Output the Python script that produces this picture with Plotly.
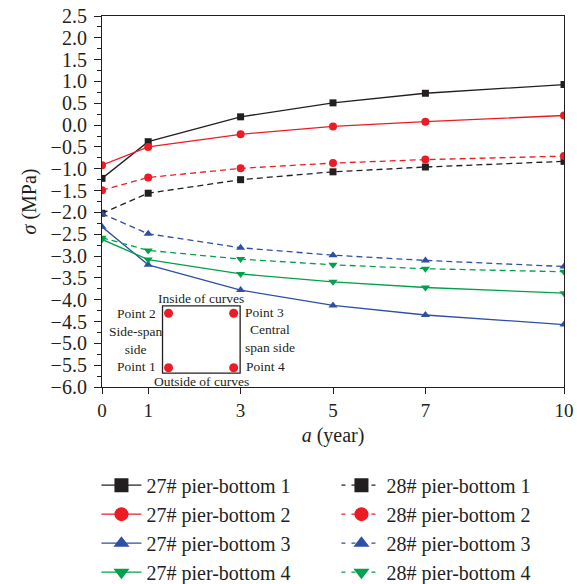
import plotly.graph_objects as go

years = [0, 1, 3, 5, 7, 10]
p27_1 = [-1.22, -0.38, 0.19, 0.51, 0.73, 0.93]
p27_2 = [-0.92, -0.50, -0.21, -0.03, 0.08, 0.22]
p27_3 = [-2.33, -3.20, -3.78, -4.13, -4.35, -4.57]
p27_4 = [-2.62, -3.08, -3.41, -3.59, -3.72, -3.85]
p28_1 = [-2.02, -1.56, -1.25, -1.07, -0.96, -0.83]
p28_2 = [-1.49, -1.20, -0.99, -0.87, -0.79, -0.71]
p28_3 = [-2.03, -2.49, -2.81, -2.98, -3.10, -3.24]
p28_4 = [-2.58, -2.87, -3.07, -3.20, -3.29, -3.36]

y_ticks = [2.5 - 0.5 * i for i in range(18)]
x_ticks = years

FONT = "Liberation Serif"
BLACK = "#231f20"
RED = "#ed1c24"
BLUE = "#2e4fa3"
GREEN = "#00a14b"

series = [
    ("27# pier-bottom 1", p27_1, BLACK, "square", "solid", 7),
    ("28# pier-bottom 1", p28_1, BLACK, "square", "dash", 7),
    ("27# pier-bottom 2", p27_2, RED, "circle", "solid", 8),
    ("28# pier-bottom 2", p28_2, RED, "circle", "dash", 8),
    ("27# pier-bottom 3", p27_3, BLUE, "triangle-up", "solid", 8),
    ("28# pier-bottom 3", p28_3, BLUE, "triangle-up", "dash", 8),
    ("27# pier-bottom 4", p27_4, GREEN, "triangle-down", "solid", 8),
    ("28# pier-bottom 4", p28_4, GREEN, "triangle-down", "dash", 8),
]

fig = go.Figure()
for name, vals, col, sym, dash, ms in series:
    fig.add_trace(go.Scatter(
        x=years, y=vals, mode="lines+markers", name=name, showlegend=False,
        line=dict(color=col, width=1.3, dash="6px,4px" if dash == "dash" else "solid"),
        marker=dict(symbol=sym, size=ms, color=col),
    ))
for name, vals, col, sym, dash, ms in series:
    fig.add_trace(go.Scatter(
        x=[None], y=[None], mode="lines+markers", name=name, showlegend=True,
        line=dict(color=col, width=1.3, dash="4px,6px" if dash == "dash" else "solid"),
        marker=dict(symbol=sym, size=14, color=col),
    ))

# inset diagram
fig.add_shape(type="rect", xref="x", yref="y", x0=1.31, x1=2.99, y0=-5.68, y1=-4.14,
              line=dict(color=BLACK, width=1.3), fillcolor="white", layer="above")
for cx, cy in [(1.44, -4.31), (2.85, -4.31), (1.44, -5.56), (2.85, -5.56)]:
    fig.add_shape(type="circle", xref="x", yref="y", xsizemode="pixel", ysizemode="pixel",
                  xanchor=cx, yanchor=cy, x0=-4.5, x1=4.5, y0=-4.5, y1=4.5,
                  fillcolor=RED, line=dict(color=RED, width=0), layer="above")

ann_font = dict(family=FONT, size=13.5, color=BLACK)
insets = [
    ("Inside of curves", 2.15, -3.98, "center"),
    ("Outside of curves", 2.15, -5.87, "center"),
    ("Point 2", 1.22, -4.31, "right"),
    ("Point 1", 1.22, -5.53, "right"),
    ("Side-span<br>side", 0.72, -4.93, "center"),
    ("Point 3", 3.05, -4.29, "left"),
    ("Point 4", 3.07, -5.53, "left"),
    ("Central<br>span side", 3.64, -4.90, "center"),
]
for txt, ax_, ay_, al in insets:
    fig.add_annotation(x=ax_, y=ay_, xref="x", yref="y", text=txt, showarrow=False,
                       xanchor=al, yanchor="middle", align="center", font=ann_font)

fig.update_layout(
    width=577, height=584,
    margin=dict(l=102, r=13, t=16, b=197, autoexpand=False),
    plot_bgcolor="white", paper_bgcolor="white",
    font=dict(family=FONT, color=BLACK, size=19),
    showlegend=True,
    legend=dict(orientation="h", x=-0.012, y=-0.212, xanchor="left", yanchor="top",
                entrywidth=185, entrywidthmode="pixels",
                font=dict(family=FONT, size=20, color=BLACK),
                bgcolor="rgba(0,0,0,0)", itemwidth=40, tracegroupgap=0),
    xaxis=dict(range=[0, 10], tickvals=x_ticks, ticktext=[str(v) for v in x_ticks],
               showgrid=False, zeroline=False, showline=True, mirror=True,
               linecolor=BLACK, linewidth=1.2, ticks="outside", ticklen=6,
               tickcolor=BLACK, tickfont=dict(size=19), automargin=False,
               title=dict(text="<i>a</i> (year)", font=dict(size=20), standoff=8)),
    yaxis=dict(range=[-6.0, 2.5], tickvals=y_ticks, tickformat=".1f",
               showgrid=False, zeroline=False, showline=True, mirror=True,
               linecolor=BLACK, linewidth=1.2, ticks="outside", ticklen=7,
               tickcolor=BLACK, tickfont=dict(size=20), automargin=False,
               ticklabelstandoff=3,
               minor=dict(ticks="outside", ticklen=4, dtick=0.25, tickcolor=BLACK, showgrid=False),
               title=dict(text="<i>σ</i> (MPa)", font=dict(size=20), standoff=8)),
)

fig.write_html(
    "out.html",
    config={"displayModeBar": False},
    post_script="document.documentElement.style.overflow='hidden';"
                "document.body.style.margin='0';document.body.style.overflow='hidden';",
)
